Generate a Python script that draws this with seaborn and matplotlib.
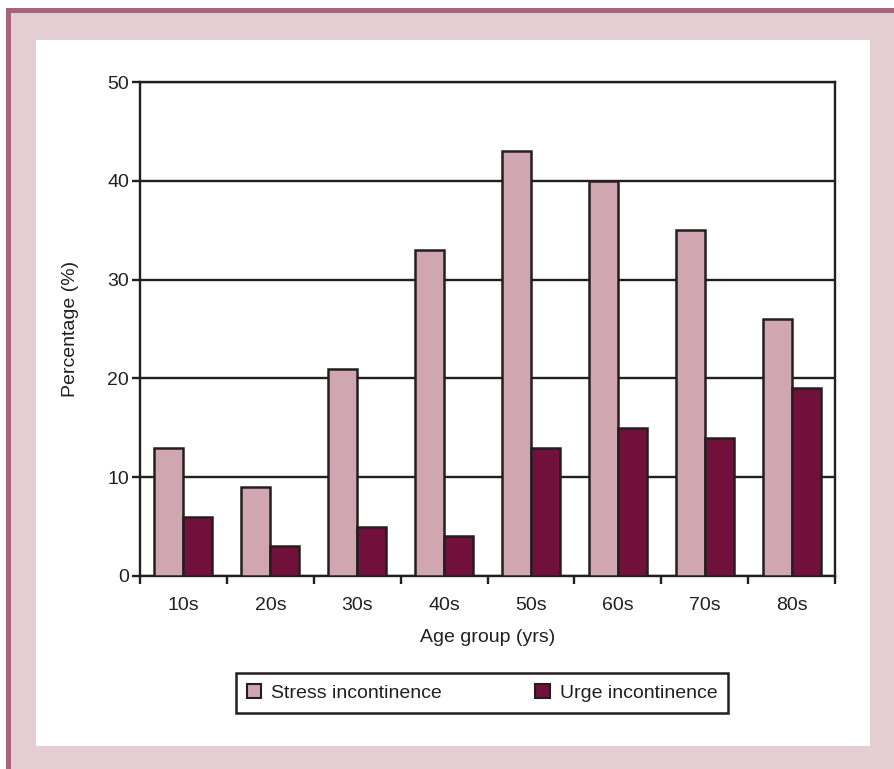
import matplotlib
matplotlib.use("Agg")
import matplotlib.pyplot as plt
from matplotlib.patches import Rectangle, Patch
import seaborn as sns
import pandas as pd

# Prevalence of incontinence by age group
age_groups = ["10s", "20s", "30s", "40s", "50s", "60s", "70s", "80s"]
stress = [13, 9, 21, 33, 43, 40, 35, 26]
urge = [6, 3, 5, 4, 13, 15, 14, 19]
series_names = ["Stress incontinence", "Urge incontinence"]
y_ticks = [0, 10, 20, 30, 40, 50]

STRESS_COLOR = "#D0A7B1"
URGE_COLOR = "#71103A"
INK = "#231F20"
FRAME_PINK = "#E4CDD3"
FRAME_DARK = "#A8657A"
FS = 14

df = pd.DataFrame({
    "Age group": age_groups * 2,
    "Percentage": stress + urge,
    "Type": [series_names[0]] * len(age_groups) + [series_names[1]] * len(age_groups),
})

sns.set_style("white")
plt.rcParams["font.family"] = ["Liberation Sans", "DejaVu Sans"]

W, H = 895, 769
fig = plt.figure(figsize=(W / 100, H / 100), dpi=100)
fig.patch.set_facecolor("white")


def px_rect(x0, y0, x1, y1, color):
    fig.patches.append(Rectangle((x0 / W, 1 - y1 / H), (x1 - x0) / W, (y1 - y0) / H,
                                 transform=fig.transFigure, facecolor=color,
                                 edgecolor="none", zorder=-10))


# decorative frame around the chart panel
px_rect(6, 8, W, H, FRAME_PINK)
px_rect(6, 8, W, 13, FRAME_DARK)
px_rect(6, 8, 11, H, FRAME_DARK)
px_rect(36, 40, 870, 746, "white")

left, right, top, bottom = 140, 835, 82, 576
ax = fig.add_axes([left / W, 1 - bottom / H, (right - left) / W, (bottom - top) / H])
ax.set_facecolor("white")

sns.barplot(data=df, x="Age group", y="Percentage", hue="Type",
            palette=[STRESS_COLOR, URGE_COLOR], saturation=1, width=0.667, gap=0,
            edgecolor=INK, linewidth=1.8, ax=ax, legend=False, zorder=3)

ax.set_ylim(0, 50)
ax.set_xlim(-0.5, len(age_groups) - 0.5)
ax.set_yticks(y_ticks)
ax.set_yticklabels([str(t) for t in y_ticks], fontsize=FS, color=INK)
ax.yaxis.grid(True, color=INK, linewidth=1.7, zorder=0)
ax.set_axisbelow(True)

# group separators as major ticks, category labels centred as minor ticks
ax.set_xticks([i - 0.5 for i in range(len(age_groups) + 1)])
ax.set_xticklabels([])
ax.set_xticks(range(len(age_groups)), minor=True)
ax.set_xticklabels(age_groups, minor=True, fontsize=FS, color=INK)
ax.tick_params(axis="x", which="major", direction="out", length=6, width=1.7, color=INK, bottom=True)
ax.tick_params(axis="x", which="minor", length=0, pad=15)
ax.tick_params(axis="y", direction="out", length=6, width=1.7, color=INK, left=True, pad=2)

for side in ["left", "right", "top", "bottom"]:
    ax.spines[side].set_visible(True)
    ax.spines[side].set_color(INK)
    ax.spines[side].set_linewidth(1.7)

ax.set_xlabel("Age group (yrs)", fontsize=FS, color=INK, labelpad=11)
ax.set_ylabel("Percentage (%)", fontsize=FS, color=INK, labelpad=20)

handles = [Patch(facecolor=STRESS_COLOR, edgecolor=INK, linewidth=1.5),
           Patch(facecolor=URGE_COLOR, edgecolor=INK, linewidth=1.5)]
leg = fig.legend(handles, series_names, loc="center", bbox_to_anchor=(482 / W, 1 - 693 / H),
                 ncol=2, frameon=True, fancybox=False, framealpha=1, fontsize=FS,
                 handlelength=0.75, handleheight=0.75, handletextpad=0.5,
                 columnspacing=4.8, borderpad=0.55, borderaxespad=0)
leg.get_frame().set_edgecolor(INK)
leg.get_frame().set_linewidth(1.8)
for t in leg.get_texts():
    t.set_color(INK)

fig.savefig("out.png", dpi=100)
